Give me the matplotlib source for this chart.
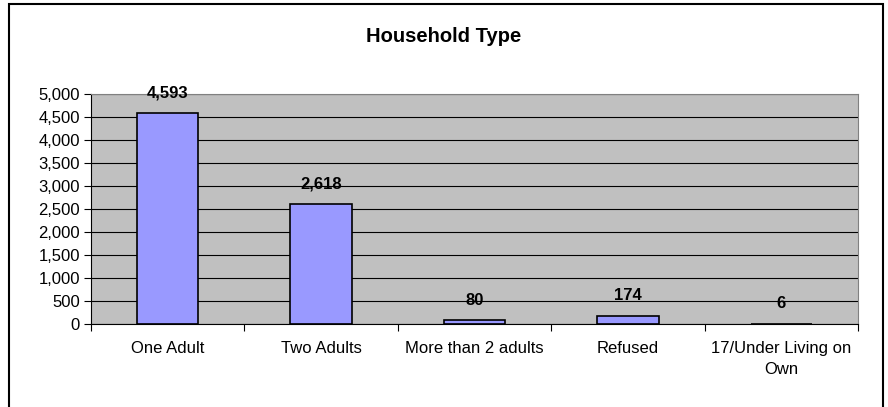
import matplotlib.pyplot as plt
from matplotlib.patches import Rectangle
from matplotlib.ticker import FuncFormatter, MultipleLocator

plt.rcParams['font.family'] = ['Liberation Sans', 'DejaVu Sans']

categories = ['One Adult', 'Two Adults', 'More than 2 adults', 'Refused',
              '17/Under Living on\nOwn']
counts = [4593, 2618, 80, 174, 6]
title = 'Household Type'

fig = plt.figure(figsize=(8.88, 4.07), dpi=100)

# outer chart frame
fig.patches.append(Rectangle((9 / 888, -0.05), 874 / 888, 1.05 - 4 / 407,
                             transform=fig.transFigure, fill=False,
                             edgecolor='black', linewidth=1.5))

ax = fig.add_axes([91 / 888, 1 - 324 / 407, 767 / 888, 230 / 407])
ax.set_facecolor('#C0C0C0')
ax.set_axisbelow(True)

x = list(range(len(categories)))
ax.bar(x, counts, width=0.4, color='#9999FF', edgecolor='black', linewidth=1.2)

for xi, v in zip(x, counts):
    ax.annotate(f'{v:,}', (xi, v), xytext=(0, 9), textcoords='offset points',
                ha='center', va='bottom', fontsize=12, fontweight='bold')

ax.set_xlim(-0.5, len(categories) - 0.5)
ax.set_ylim(0, 5000)
ax.yaxis.set_major_locator(MultipleLocator(500))
ax.yaxis.set_major_formatter(FuncFormatter(lambda v, p: f'{int(v):,}'))
ax.grid(axis='y', color='black', linewidth=0.8)

# category labels centred, ticks on the boundaries between categories
ax.set_xticks([i - 0.5 for i in range(len(categories) + 1)])
ax.set_xticklabels([])
ax.set_xticks(x, minor=True)
ax.set_xticklabels(categories, minor=True, fontsize=12, linespacing=1.5)
ax.tick_params(axis='x', which='minor', length=0, pad=12)
ax.tick_params(axis='x', which='major', length=5, direction='out')
ax.tick_params(axis='y', length=5, direction='out', labelsize=12, pad=3)

for side in ('top', 'right'):
    ax.spines[side].set_color('#808080')
ax.spines['left'].set_color('black')
ax.spines['bottom'].set_color('black')

fig.text(0.5, 1 - 36 / 407, title, ha='center', va='center',
         fontsize=14.5, fontweight='bold')

fig.savefig('out.png', dpi=100)
